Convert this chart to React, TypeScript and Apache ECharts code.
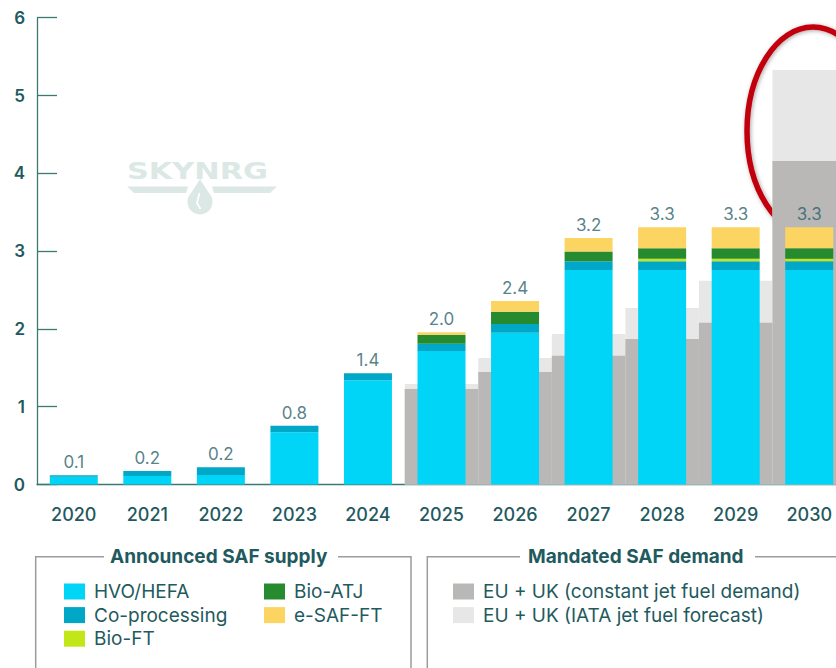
import React, { useEffect, useRef } from "react";
import * as echarts from "echarts";

const years = ["2020", "2021", "2022", "2023", "2024", "2025", "2026", "2027", "2028", "2029", "2030"];
const hvoHefa = [0.1, 0.109, 0.122, 0.67, 1.34, 1.716, 1.951, 2.757, 2.757, 2.757, 2.757];
const coProcessing = [0.02, 0.065, 0.1, 0.085, 0.09, 0.094, 0.112, 0.112, 0.112, 0.112, 0.112];
const bioFt = [0, 0, 0, 0, 0, 0, 0, 0, 0.034, 0.034, 0.034];
const bioAtj = [0, 0, 0, 0, 0, 0.116, 0.158, 0.125, 0.134, 0.134, 0.134];
const eSafFt = [0, 0, 0, 0, 0, 0.031, 0.138, 0.174, 0.27, 0.27, 0.27];
const totalLabels = ["0.1", "0.2", "0.2", "0.8", "1.4", "2.0", "2.4", "3.2", "3.3", "3.3", "3.3"];
const demandConstant = [null, null, null, null, null, 1.227, 1.446, 1.656, 1.87, 2.08, 4.158];
const demandIata = [null, null, null, null, null, 1.292, 1.626, 1.934, 2.269, 2.62, 5.328];

const FONT = "Inter, 'Liberation Sans', sans-serif";
const TEXT = "#1F5A5E";
const AXIS = "#3A7A73";

const C_HVO = "#00D5F8";
const C_CO = "#00A7C6";
const C_BIOFT = "#C3E619";
const C_ATJ = "#268A2E";
const C_ESAF = "#FCD462";
const C_GRAY = "#B9B8B7";
const C_LIGHT = "#E7E7E7";

const LOGO = "#DCE8E5";

export default function App() {
  const ref = useRef<HTMLDivElement>(null);
  useEffect(() => {
    if (!ref.current) return;
    const chart = echarts.init(ref.current, null, { renderer: "svg" });
    const totals = years.map((_, i) => hvoHefa[i] + coProcessing[i] + bioFt[i] + bioAtj[i] + eSafFt[i]);
    const supplyBar = (name: string, data: number[], color: string) => ({
      name,
      type: "bar",
      stack: "supply",
      xAxisIndex: 0,
      barWidth: 48,
      data,
      itemStyle: { color },
      silent: true,
    });
    const legendText = { color: TEXT, fontSize: 19, fontFamily: FONT, lineHeight: 16, padding: [0, 0, 0, 4] };
    const line = (points: number[][]) => ({
      type: "polyline",
      shape: { points },
      style: { stroke: "#9C9C9C", lineWidth: 1.5, fill: null },
      silent: true,
    });
    const title = (text: string, x: number) => ({
      type: "text",
      x,
      y: 556,
      style: {
        text,
        fill: TEXT,
        fontSize: 19,
        fontWeight: "bold",
        fontFamily: FONT,
        verticalAlign: "middle",
        align: "left",
      },
      silent: true,
    });
    const legendBase = {
      orient: "vertical",
      top: 582,
      padding: 0,
      itemWidth: 21,
      itemHeight: 16,
      itemGap: 4.6,
      icon: "rect",
      selectedMode: false,
      textStyle: legendText,
    };
    chart.setOption({
      animation: false,
      grid: { left: 37, right: 0, top: 17.7, bottom: 183.5 },
      xAxis: [
        {
          type: "category",
          data: years,
          axisLine: { show: true, lineStyle: { color: AXIS, width: 1.3 } },
          axisTick: { show: false },
          axisLabel: { color: TEXT, fontSize: 18, fontFamily: FONT, fontWeight: 500, margin: 21 },
        },
        { type: "category", data: years, show: false },
      ],
      yAxis: {
        type: "value",
        min: 0,
        max: 6,
        interval: 1,
        axisLine: { show: true, lineStyle: { color: AXIS, width: 1.3 } },
        axisTick: { show: true, inside: true, length: 20, lineStyle: { color: AXIS, width: 1.3 } },
        splitLine: { show: false },
        axisLabel: { color: TEXT, fontSize: 17, fontFamily: FONT, fontWeight: 600, margin: 12 },
      },
      legend: [
        { ...legendBase, data: ["HVO/HEFA", "Co-processing", "Bio-FT"], left: 64 },
        { ...legendBase, data: ["Bio-ATJ", "e-SAF-FT"], left: 264 },
        {
          ...legendBase,
          data: ["EU + UK (constant jet fuel demand)", "EU + UK (IATA jet fuel forecast)"],
          left: 453,
        },
      ],
      series: [
        {
          name: "EU + UK (IATA jet fuel forecast)",
          type: "bar",
          xAxisIndex: 1,
          barWidth: "100%",
          barGap: "-100%",
          data: demandIata,
          itemStyle: { color: C_LIGHT },
          silent: true,
        },
        {
          name: "EU + UK (constant jet fuel demand)",
          type: "bar",
          xAxisIndex: 1,
          barWidth: "100%",
          barGap: "-100%",
          data: demandConstant,
          itemStyle: { color: C_GRAY },
          silent: true,
        },
        supplyBar("HVO/HEFA", hvoHefa, C_HVO),
        supplyBar("Co-processing", coProcessing, C_CO),
        supplyBar("Bio-FT", bioFt, C_BIOFT),
        supplyBar("Bio-ATJ", bioAtj, C_ATJ),
        supplyBar("e-SAF-FT", eSafFt, C_ESAF),
        {
          name: "totals",
          type: "scatter",
          xAxisIndex: 0,
          data: totals,
          symbol: "rect",
          symbolSize: 1,
          itemStyle: { color: "rgba(0,0,0,0)" },
          silent: true,
          label: {
            show: true,
            position: "top",
            distance: 4,
            color: "#2A626A",
            fontSize: 17,
            fontFamily: FONT,
            formatter: (p: any) => totalLabels[p.dataIndex],
          },
        },
      ],
      graphic: [
        // watermark logo
        {
          type: "text",
          x: 127,
          y: 171,
          scaleX: 1.32,
          style: {
            text: "SKYNRG",
            fill: LOGO,
            fontSize: 23,
            fontWeight: 900,
            fontFamily: "'DejaVu Sans', sans-serif",
            verticalAlign: "middle",
            align: "left",
          },
          silent: true,
        },
        {
          type: "polygon",
          shape: { points: [[127, 186.5], [188, 186.5], [186, 193], [134, 193]] },
          style: { fill: LOGO },
          silent: true,
        },
        {
          type: "polygon",
          shape: { points: [[212, 186.5], [277, 186.5], [270, 193], [214, 193]] },
          style: { fill: LOGO },
          silent: true,
        },
        {
          type: "circle",
          shape: { cx: 200, cy: 202, r: 12.5 },
          style: { fill: LOGO },
          silent: true,
        },
        {
          type: "polygon",
          shape: { points: [[200, 179], [212, 198], [188, 198]] },
          style: { fill: LOGO },
          silent: true,
        },
        {
          type: "polyline",
          shape: { points: [[199.5, 193], [197, 203], [200.5, 209]] },
          style: { stroke: "#ffffff", lineWidth: 1.8, fill: null },
          silent: true,
        },
        // red highlight ellipse
        {
          type: "ellipse",
          shape: { cx: 813, cy: 131, rx: 66, ry: 104 },
          style: {
            fill: null,
            stroke: "#C2040C",
            lineWidth: 5.5,
            shadowBlur: 4,
            shadowColor: "rgba(0,0,0,0.35)",
            shadowOffsetX: 1,
            shadowOffsetY: 1,
          },
          silent: true,
        },
        // legend frames
        line([[104, 556.7], [35.7, 556.7], [35.7, 670]]),
        line([[338, 556.7], [411, 556.7], [411, 670]]),
        line([[520, 556.7], [427.3, 556.7], [427.3, 670]]),
        line([[755, 556.7], [846, 556.7]]),
        title("Announced SAF supply", 110),
        title("Mandated SAF demand", 528),
      ],
    });
    return () => chart.dispose();
  }, []);
  return (
    <div
      ref={ref}
      style={{ position: "fixed", left: 0, top: 0, width: 846, height: 668, background: "#ffffff" }}
    />
  );
}
